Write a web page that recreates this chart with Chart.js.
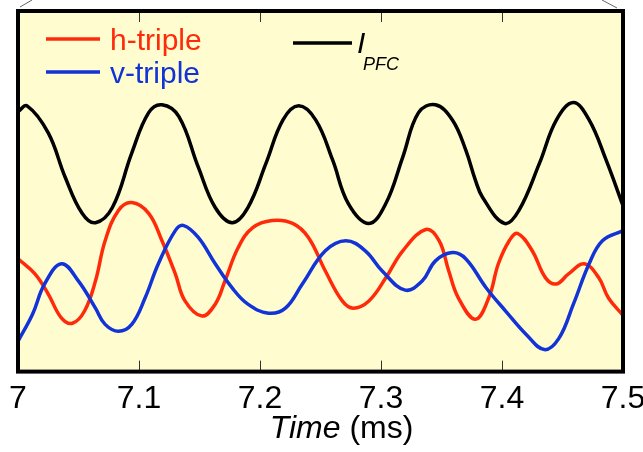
<!DOCTYPE html>
<html>
<head>
<meta charset="utf-8">
<script src="https://cdn.jsdelivr.net/npm/chart.js@4.4.1/dist/chart.umd.min.js"></script>
<style>
  html, body { margin: 0; padding: 0; background: #fff; }
</style>
</head>
<body>
<canvas id="myChart" width="643" height="452"></canvas>
<script>
// time axis (ms) and signals in arbitrary units
const tickValues = [7, 7.1, 7.2, 7.3, 7.4, 7.5];

const timeH = [7.000, 7.014, 7.025, 7.036, 7.045, 7.055, 7.064, 7.072, 7.083, 7.094,
               7.108, 7.119, 7.130, 7.138, 7.152, 7.163, 7.171, 7.182, 7.194, 7.210,
               7.227, 7.240, 7.254, 7.268, 7.277, 7.290, 7.304, 7.318, 7.337, 7.348,
               7.356, 7.364, 7.378, 7.389, 7.397, 7.406, 7.413, 7.425, 7.436, 7.445,
               7.455, 7.468, 7.480, 7.488, 7.500];
const hTriple = [3.13, 2.71, 2.15, 1.48, 1.34, 1.68, 2.51, 3.63, 4.47, 4.69,
                 4.39, 3.63, 2.71, 1.96, 1.54, 1.87, 2.51, 3.44, 3.99, 4.19,
                 4.11, 3.72, 2.79, 1.96, 1.76, 1.96, 2.60, 3.35, 3.94, 3.63,
                 2.79, 2.04, 1.45, 2.04, 2.99, 3.63, 3.83, 3.35, 2.60, 2.43,
                 2.71, 2.99, 2.60, 2.04, 1.56];

const timeV = [7.000, 7.012, 7.022, 7.036, 7.050, 7.064, 7.072, 7.083, 7.094, 7.105,
               7.116, 7.130, 7.137, 7.149, 7.163, 7.177, 7.190, 7.207, 7.221, 7.235,
               7.254, 7.271, 7.287, 7.301, 7.320, 7.334, 7.345, 7.359, 7.370, 7.387,
               7.403, 7.420, 7.435, 7.447, 7.459, 7.472, 7.483, 7.500];
const vTriple = [0.84, 1.59, 2.43, 2.99, 2.51, 1.76, 1.31, 1.12, 1.31, 2.04,
                 2.99, 3.91, 4.05, 3.72, 2.99, 2.32, 1.87, 1.62, 1.76, 2.43,
                 3.35, 3.63, 3.35, 2.79, 2.26, 2.51, 3.07, 3.30, 3.13, 2.32,
                 1.68, 1.03, 0.61, 0.92, 1.87, 2.99, 3.63, 3.91];

const timeI = [7.000, 7.0075, 7.025, 7.039, 7.053, 7.064, 7.078, 7.094, 7.108, 7.119,
               7.133, 7.149, 7.163, 7.177, 7.190, 7.205, 7.219, 7.232, 7.246, 7.260,
               7.273, 7.290, 7.304, 7.318, 7.331, 7.345, 7.359, 7.370, 7.378, 7.384,
               7.402, 7.414, 7.431, 7.445, 7.459, 7.472, 7.486, 7.500];
const iPfc = [7.21, 7.37, 6.62, 5.39, 4.39, 4.13, 4.55, 6.06, 7.18, 7.40,
              7.07, 5.67, 4.55, 4.13, 4.55, 5.78, 6.98, 7.37, 6.98, 5.87,
              4.66, 4.11, 4.66, 5.95, 7.18, 7.40, 6.98, 6.15, 5.31, 4.83,
              4.11, 4.47, 5.78, 6.98, 7.46, 6.98, 5.87, 4.60];

const RED = '#ff2a0a';
const BLUE = '#1233d6';
const BLACK = '#000000';
const FONT = '"Liberation Sans", Arial, sans-serif';

function toPoints(xs, ys) {
    return xs.map((x, i) => ({ x: x, y: ys[i] }));
}

// yellow panel, black frame, inward ticks, legend and axis title
const panel = {
    id: 'panel',
    beforeDraw(chart) {
        const { ctx, chartArea: a } = chart;
        ctx.save();
        ctx.fillStyle = '#ffffff';
        ctx.fillRect(0, 0, chart.width, chart.height);
        ctx.fillStyle = '#fffcd0';
        ctx.fillRect(a.left, a.top, a.right - a.left, a.bottom - a.top);
        ctx.restore();
    },
    afterDatasetsDraw(chart) {
        const { ctx, chartArea: a, scales } = chart;
        const xs = scales.x;
        ctx.save();

        // small ticks pointing into the panel
        ctx.strokeStyle = '#333';
        ctx.lineWidth = 1;
        tickValues.slice(1, -1).forEach(v => {
            const px = Math.round(xs.getPixelForValue(v)) + 0.5;
            ctx.beginPath();
            ctx.moveTo(px, a.bottom);
            ctx.lineTo(px, a.bottom - 11);
            ctx.moveTo(px, a.top);
            ctx.lineTo(px, a.top + 11);
            ctx.stroke();
        });

        // frame
        ctx.strokeStyle = '#000';
        ctx.lineWidth = 4;
        ctx.strokeRect(a.left, a.top, a.right - a.left, a.bottom - a.top);

        // connector strokes above the corners
        ctx.strokeStyle = '#666';
        ctx.lineWidth = 1;
        ctx.beginPath();
        ctx.moveTo(a.left + 2, a.top - 4);
        ctx.lineTo(a.left + 14, 0);
        ctx.moveTo(a.right - 6, a.top - 3);
        ctx.lineTo(a.right - 21, 0);
        ctx.stroke();

        // legend
        const lx = a.left;
        ctx.lineWidth = 3.5;
        ctx.textBaseline = 'alphabetic';
        ctx.textAlign = 'left';
        const rows = [
            { color: RED, label: 'h-triple', y: 39 },
            { color: BLUE, label: 'v-triple', y: 72 }
        ];
        ctx.font = '30px ' + FONT;
        rows.forEach(r => {
            ctx.strokeStyle = r.color;
            ctx.beginPath();
            ctx.moveTo(lx + 28, r.y);
            ctx.lineTo(lx + 82, r.y);
            ctx.stroke();
            ctx.fillStyle = r.color;
            ctx.fillText(r.label, lx + 92, r.y + 11);
        });

        ctx.strokeStyle = BLACK;
        ctx.beginPath();
        ctx.moveTo(lx + 275, 43);
        ctx.lineTo(lx + 334, 43);
        ctx.stroke();
        ctx.fillStyle = BLACK;
        ctx.font = 'italic 30px ' + FONT;
        ctx.fillText('I', lx + 339, 53);
        ctx.font = 'italic 18px ' + FONT;
        ctx.fillText('PFC', lx + 345, 70);

        // axis title: italic "Time" followed by " (ms)"
        const t1 = 'Time', t2 = ' (ms)';
        ctx.font = 'italic 32px ' + FONT;
        const w1 = ctx.measureText(t1).width;
        ctx.font = '32px ' + FONT;
        const w2 = ctx.measureText(t2).width;
        const tx = (a.left + a.right) / 2 + 21 - (w1 + w2) / 2;
        ctx.font = 'italic 32px ' + FONT;
        ctx.fillText(t1, tx, 438);
        ctx.font = '32px ' + FONT;
        ctx.fillText(t2, tx + w1, 438);

        ctx.restore();
    }
};

const ctx = document.getElementById('myChart').getContext('2d');
new Chart(ctx, {
    type: 'line',
    data: {
        datasets: [
            { label: 'v-triple', data: toPoints(timeV, vTriple), borderColor: BLUE },
            { label: 'h-triple', data: toPoints(timeH, hTriple), borderColor: RED },
            { label: 'I_PFC', data: toPoints(timeI, iPfc), borderColor: BLACK }
        ]
    },
    options: {
        responsive: false,
        animation: false,
        layout: { padding: { left: 18, right: 20, top: 11, bottom: 26 } },
        elements: {
            point: { radius: 0 },
            line: { borderWidth: 3.5, tension: 0.4, borderJoinStyle: 'round', borderCapStyle: 'round' }
        },
        scales: {
            x: {
                type: 'linear',
                min: 7,
                max: 7.5,
                grid: { display: false, drawTicks: false },
                border: { display: false },
                afterBuildTicks: scale => {
                    scale.ticks = tickValues.map(v => ({ value: v }));
                },
                afterFit: scale => {
                    scale.paddingLeft = 0;
                    scale.paddingRight = 0;
                },
                ticks: {
                    color: '#000',
                    padding: 8,
                    maxRotation: 0,
                    autoSkip: false,
                    font: { family: FONT, size: 32 },
                    callback: v => String(+v.toFixed(1))
                }
            },
            y: {
                display: false,
                min: 0,
                max: 10
            }
        },
        plugins: {
            legend: { display: false },
            tooltip: { enabled: false }
        }
    },
    plugins: [panel]
});
</script>
</body>
</html>
